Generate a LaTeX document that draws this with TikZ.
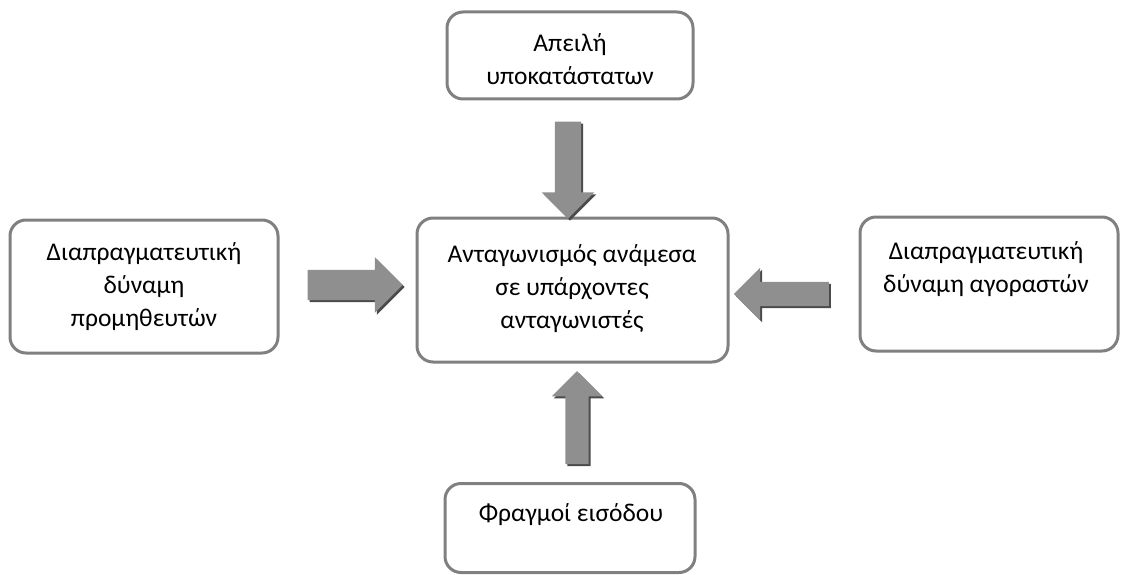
\documentclass[tikz,border=0pt]{standalone}
\usepackage{fontspec}
\setmainfont{Carlito}
\usepackage{tikz}
\usetikzlibrary{shapes.arrows,shadows,positioning}
\definecolor{boxgray}{RGB}{128,128,128}
\definecolor{arrowgray}{RGB}{143,143,143}
\definecolor{shadowgray}{RGB}{75,75,75}

\begin{document}
\begin{tikzpicture}[x=1pt, y=-1pt,
    box/.style={draw=boxgray, line width=3pt, rounded corners=16pt, fill=white},
    txt/.style={align=center, inner sep=0pt, font=\fontsize{25.5}{33}\selectfont},
    blockarrow/.style={single arrow, fill=arrowgray, inner xsep=0pt,
      single arrow tip angle=90, single arrow head indent=0pt,
      drop shadow={shadow xshift=2pt, shadow yshift=-2pt, fill=shadowgray, opacity=1}}]
  \useasboundingbox (0,0) rectangle (1121,575);

  % Boxes
  \node[box, minimum width=246pt, minimum height=87pt] (subst) at (570,55.5) {};
  \node[box, minimum width=268pt, minimum height=133pt] (suppl) at (144,286.5) {};
  \node[box, minimum width=311pt, minimum height=144pt] (rival) at (572.5,290) {};
  \node[box, minimum width=258pt, minimum height=134pt] (buyer) at (989,284) {};
  \node[box, minimum width=250pt, minimum height=89pt] (entry) at (570,528) {};

  % Labels
  \node[txt] (subst-txt) at (570,59) {Απειλή\\υποκατάστατων};
  \node[txt] (suppl-txt) at (144,287) {Διαπραγματευτική\\δύναμη\\προμηθευτών};
  \node[txt] (rival-txt) at (572,288.5) {Ανταγωνισμός ανάμεσα\\σε υπάρχοντες\\ανταγωνιστές};
  \node[txt] (buyer-txt) at (986,269.5) {Διαπραγματευτική\\δύναμη αγοραστών};
  \node[txt] (entry-txt) at (571,515) {Φραγμοί εισόδου};

  % Arrows
  \node[blockarrow, rotate=-90, minimum height=97pt, inner ysep=13pt,
        single arrow head extend=13pt] (arr-subst) at (568,163.5) {};
  \node[blockarrow, minimum height=95pt, inner ysep=15pt,
        single arrow head extend=12.5pt] (arr-suppl) at (347.5,285) {};
  \node[blockarrow, rotate=180, minimum height=95pt, inner ysep=12pt,
        single arrow head extend=14pt] (arr-buyer) at (787.5,294) {};
  \node[blockarrow, rotate=90, minimum height=93pt, inner ysep=11.5pt,
        single arrow head extend=13.5pt] (arr-entry) at (577,423.5) {};
\end{tikzpicture}
\end{document}
